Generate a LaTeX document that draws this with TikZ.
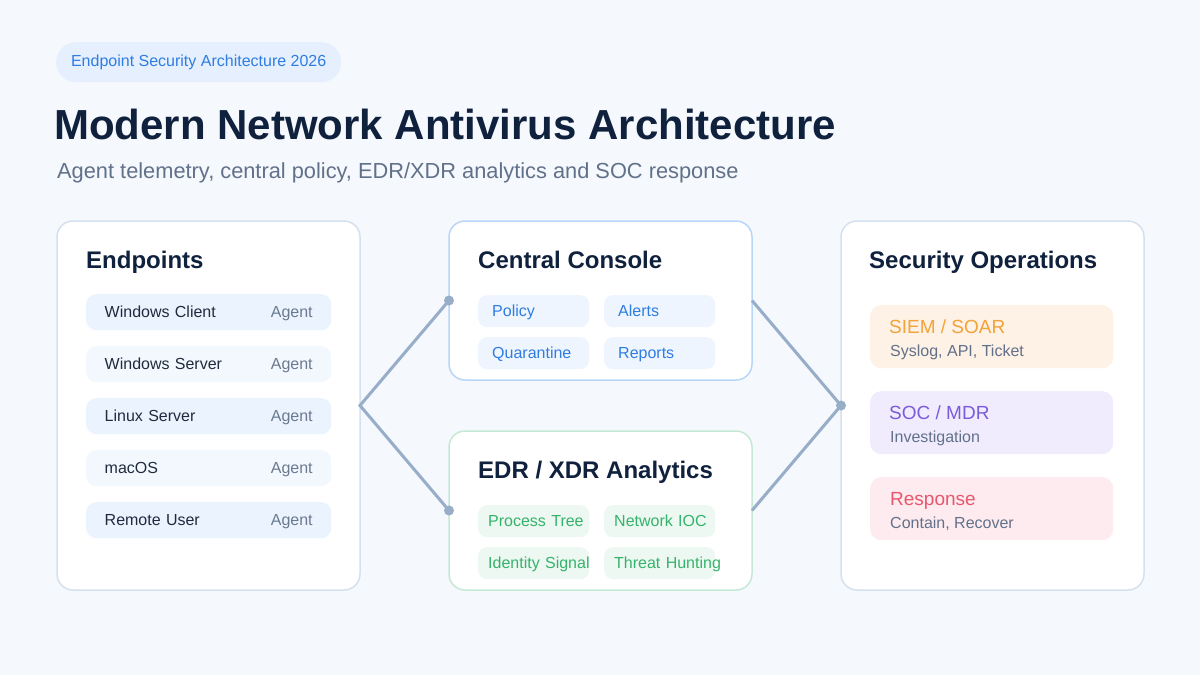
\documentclass[tikz,border=0pt]{standalone}
\usepackage{fontspec}
\setmainfont{Liberation Sans}

\definecolor{pagebg}{HTML}{F5F8FC}
\definecolor{navy}{HTML}{0F213D}
\definecolor{slate}{HTML}{62718A}
\definecolor{pillfill}{HTML}{E5EFFD}
\definecolor{blueink}{HTML}{2F7DE1}
\definecolor{greenink}{HTML}{35B36B}
\definecolor{panelline}{HTML}{D5E1EF}
\definecolor{consoleline}{HTML}{B8D6F9}
\definecolor{edrline}{HTML}{C5E9D5}
\definecolor{rowfill}{HTML}{EBF4FE}
\definecolor{rowfilllight}{HTML}{F3F8FE}
\definecolor{rowink}{HTML}{1F2B3D}
\definecolor{agentgray}{HTML}{6B7A90}
\definecolor{chipblue}{HTML}{EEF5FE}
\definecolor{chipgreen}{HTML}{ECF8F1}
\definecolor{siemfill}{HTML}{FEF1E5}
\definecolor{siemink}{HTML}{F2A33A}
\definecolor{socfill}{HTML}{F0ECFD}
\definecolor{socink}{HTML}{7A5CDB}
\definecolor{respfill}{HTML}{FDEBEF}
\definecolor{respink}{HTML}{E8576D}
\definecolor{wirecol}{HTML}{97ADC8}

\begin{document}
\begin{tikzpicture}[
			x=1pt, y=-1pt,
			panel/.style={draw, line width=1.5pt, fill=white, rounded corners=16pt, anchor=north west, minimum width=303pt, outer sep=0pt, inner sep=0pt},
			heading/.style={anchor=base west, inner sep=0pt, text=navy, font=\fontsize{24pt}{28pt}\selectfont\bfseries},
			row/.style={anchor=north west, rounded corners=10pt, minimum height=36pt, text width=208pt, inner xsep=18.5pt, inner ysep=0pt, text height=11pt, text depth=0pt, text=rowink, font=\fontsize{16pt}{19pt}\selectfont},
			chip/.style={anchor=north west, rounded corners=9pt, minimum height=32pt, text width=83pt, inner xsep=14pt, inner ysep=0pt, text height=11pt, text depth=0pt, fill=chipblue, text=blueink, font=\fontsize{16pt}{19pt}\selectfont},
			edrchip/.style={chip, text width=91pt, inner xsep=10pt, fill=chipgreen, text=greenink},
			card/.style={anchor=north west, rounded corners=11pt, minimum width=243pt, minimum height=63pt, inner sep=0pt},
			cardhead/.style={anchor=base west, inner sep=0pt, font=\fontsize{19pt}{23pt}\selectfont},
			cardnote/.style={anchor=base west, inner sep=0pt, text=slate, font=\fontsize{16pt}{19pt}\selectfont},
			wire/.style={draw=wirecol, line width=3pt, line join=miter}]
	
		\fill[pagebg] (0,0) rectangle (1200,675);
		\useasboundingbox (0,0) rectangle (1200,675);
	
		\node[anchor=north west, fill=pillfill, rounded corners=20pt, minimum width=285pt, minimum height=40pt, inner sep=0pt, text height=12pt, text depth=4pt, text=blueink, font=\fontsize{16pt}{19pt}\selectfont](pill) at (56,42) {Endpoint Security Architecture 2026};
		\node[anchor=base west, inner sep=0pt, text=navy, font=\fontsize{42pt}{50pt}\selectfont\bfseries](title) at (54,139) {Modern Network Antivirus Architecture};
		\node[anchor=base west, inner sep=0pt, text=slate, font=\fontsize{21.8pt}{26pt}\selectfont](subtitle) at (57,178) {Agent telemetry, central policy, EDR/XDR analytics and SOC response};
	
		\node[panel, draw=panelline, minimum height=369pt](endpoints) at (57,221) {};
		\node[panel, draw=consoleline, minimum height=159pt](console) at (449,221) {};
		\node[panel, draw=edrline, minimum height=159pt](edr) at (449,431) {};
		\node[panel, draw=panelline, minimum height=369pt](secops) at (841,221) {};
	
		\node[heading](endpointstitle) at (86,268) {Endpoints};
		\node[heading](consoletitle) at (478,268) {Central Console};
		\node[heading](edrtitle) at (478,478) {EDR / XDR Analytics};
		\node[heading](secopstitle) at (869,268) {Security Operations};
	
		\node[row, fill=rowfill](winclient) at (86,294) {Windows Client\hfill\textcolor{agentgray}{Agent}};
		\node[row, fill=rowfilllight](winserver) at (86,346) {Windows Server\hfill\textcolor{agentgray}{Agent}};
		\node[row, fill=rowfill](linux) at (86,398) {Linux Server\hfill\textcolor{agentgray}{Agent}};
		\node[row, fill=rowfilllight](macos) at (86,450) {macOS\hfill\textcolor{agentgray}{Agent}};
		\node[row, fill=rowfill](remote) at (86,502) {Remote User\hfill\textcolor{agentgray}{Agent}};
	
		\node[chip](policy) at (478,295) {Policy};
		\node[chip](alerts) at (604,295) {Alerts};
		\node[chip](quarantine) at (478,337) {Quarantine};
		\node[chip](reports) at (604,337) {Reports};
	
		\node[edrchip](proctree) at (478,505) {\mbox{Process Tree}};
		\node[edrchip](netioc) at (604,505) {\mbox{Network IOC}};
		\node[edrchip](identity) at (478,547) {\mbox{Identity Signal}};
		\node[edrchip](hunting) at (604,547) {\mbox{Threat Hunting}};
	
		\node[card, fill=siemfill](siem) at (870,305) {};
		\node[cardhead, text=siemink](siemtitle) at ([shift={(19,28)}]siem.north west) {SIEM / SOAR};
		\node[cardnote](siemnote) at ([shift={(20,51)}]siem.north west) {Syslog, API, Ticket};
		\node[card, fill=socfill](soc) at (870,391) {};
		\node[cardhead, text=socink](soctitle) at ([shift={(19,28)}]soc.north west) {SOC / MDR};
		\node[cardnote](socnote) at ([shift={(20,51)}]soc.north west) {Investigation};
		\node[card, fill=respfill](response) at (870,477) {};
		\node[cardhead, text=respink](resptitle) at ([shift={(20,28)}]response.north west) {Response};
		\node[cardnote](respnote) at ([shift={(20,51)}]response.north west) {Contain, Recover};
	
		\draw[wire] (console.west) -- (endpoints.east) -- (edr.west);
		\draw[wire] (console.east) -- (secops.west) -- (edr.east);
		\fill[wirecol] (console.west) circle[radius=5pt];
		\fill[wirecol] (edr.west) circle[radius=5pt];
		\fill[wirecol] (secops.west) circle[radius=5pt];
	\end{tikzpicture}
\end{document}
